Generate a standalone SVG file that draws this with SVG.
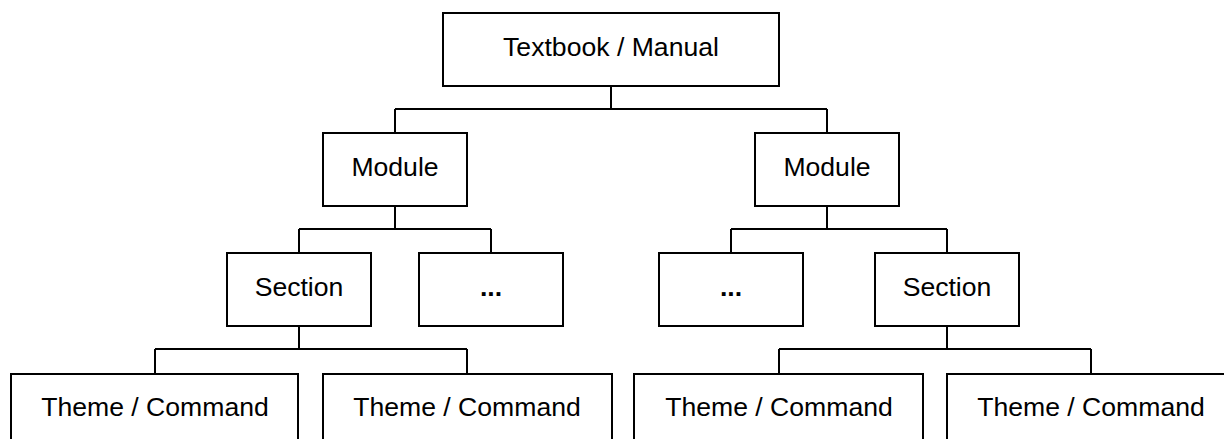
<svg xmlns="http://www.w3.org/2000/svg" width="1224" height="439" viewBox="0 0 1224 439">
  <style>
    .box { fill: #ffffff; stroke: #000000; stroke-width: 2; }
    .lbl { font-family: "Liberation Sans", Arial, sans-serif; font-size: 26.6px; fill: #000000; text-anchor: middle; }
    .dots { font-weight: bold; }
    .wire { fill: none; stroke: #000000; stroke-width: 2; }
  </style>
  <rect width="1224" height="439" fill="#ffffff"/>

  <!-- tree connectors -->
  <g id="connectors" class="wire">
    <path d="M611 86 V109 M395 109 H827 M395 109 V133 M827 109 V133"/>
    <path d="M395 206 V229 M299 229 H491 M299 229 V253 M491 229 V253"/>
    <path d="M827 206 V229 M731 229 H947 M731 229 V253 M947 229 V253"/>
    <path d="M299 326 V349 M155 349 H467 M155 349 V374 M467 349 V374"/>
    <path d="M947 326 V349 M779 349 H1091 M779 349 V374 M1091 349 V374"/>
  </g>

  <g id="root">
    <rect class="box" x="443" y="13" width="336" height="73"/>
    <text class="lbl" x="611" y="56">Textbook / Manual</text>
  </g>

  <g id="module-left">
    <rect class="box" x="323" y="133" width="144" height="73"/>
    <text class="lbl" x="395" y="176">Module</text>
  </g>
  <g id="module-right">
    <rect class="box" x="755" y="133" width="144" height="73"/>
    <text class="lbl" x="827" y="176">Module</text>
  </g>

  <g id="section-left">
    <rect class="box" x="227" y="253" width="144" height="73"/>
    <text class="lbl" x="299" y="296">Section</text>
  </g>
  <g id="more-left">
    <rect class="box" x="419" y="253" width="144" height="73"/>
    <text class="lbl dots" x="491" y="296">...</text>
  </g>
  <g id="more-right">
    <rect class="box" x="659" y="253" width="144" height="73"/>
    <text class="lbl dots" x="731" y="296">...</text>
  </g>
  <g id="section-right">
    <rect class="box" x="875" y="253" width="144" height="73"/>
    <text class="lbl" x="947" y="296">Section</text>
  </g>

  <g id="theme-1">
    <rect class="box" x="11" y="374" width="287" height="73"/>
    <text class="lbl" x="155" y="416">Theme / Command</text>
  </g>
  <g id="theme-2">
    <rect class="box" x="323" y="374" width="289" height="73"/>
    <text class="lbl" x="467" y="416">Theme / Command</text>
  </g>
  <g id="theme-3">
    <rect class="box" x="634" y="374" width="289" height="73"/>
    <text class="lbl" x="779" y="416">Theme / Command</text>
  </g>
  <g id="theme-4">
    <rect class="box" x="947" y="374" width="289" height="73"/>
    <text class="lbl" x="1091" y="416">Theme / Command</text>
  </g>
</svg>
